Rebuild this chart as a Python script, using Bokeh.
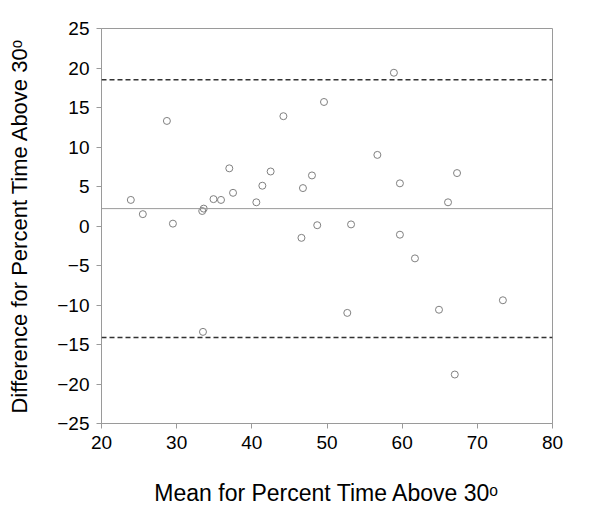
from bokeh.plotting import figure
from bokeh.models import Span, Range1d, FixedTicker
from bokeh.embed import file_html
from bokeh.resources import INLINE

# Bland-Altman data
mean_pct = [23.9, 25.5, 28.7, 29.5, 33.4, 33.6, 33.5, 34.9, 35.9, 37.0,
            37.5, 40.6, 41.4, 42.5, 44.2, 46.6, 46.8, 48.0, 48.7, 49.6,
            52.7, 53.2, 56.7, 58.9, 59.7, 59.7, 61.7, 64.9, 66.1, 67.0,
            67.3, 73.4]
diff_pct = [3.3, 1.5, 13.3, 0.3, 1.9, 2.2, -13.4, 3.4, 3.3, 7.3,
            4.2, 3.0, 5.1, 6.9, 13.9, -1.5, 4.8, 6.4, 0.1, 15.7,
            -11.0, 0.2, 9.0, 19.4, 5.4, -1.1, -4.1, -10.6, 3.0, -18.8,
            6.7, -9.4]
bias = 2.2
upper_loa = 18.5
lower_loa = -14.1
x_ticks = [20, 30, 40, 50, 60, 70, 80]
y_ticks = [-25, -20, -15, -10, -5, 0, 5, 10, 15, 20, 25]

FONT = "Liberation Sans"
GRAY = "#9a9a9a"

p = figure(width=592, height=508, output_backend="svg", toolbar_location=None,
           x_range=Range1d(20, 80), y_range=Range1d(-25, 25),
           min_border_left=101, min_border_right=40, min_border_top=28,
           min_border_bottom=85)

p.xgrid.visible = False
p.ygrid.visible = False
p.outline_line_color = GRAY
p.outline_line_width = 1

for ax in (p.xaxis[0], p.yaxis[0]):
    ax.axis_line_color = GRAY
    ax.major_tick_line_color = GRAY
    ax.minor_tick_line_color = None
    ax.major_tick_in = 0
    ax.major_tick_out = 5
    ax.major_label_text_font = FONT
    ax.major_label_text_font_size = "19px"
    ax.major_label_text_color = "black"
    ax.major_label_standoff = 7
    ax.axis_label_text_font = FONT
    ax.axis_label_text_font_style = "normal"
    ax.axis_label_text_color = "black"

p.xaxis.axis_label_text_font_size = "23px"
p.yaxis.axis_label_text_font_size = "22px"
p.xaxis.ticker = FixedTicker(ticks=x_ticks)
p.yaxis.ticker = FixedTicker(ticks=y_ticks)
p.xaxis.axis_label = "Mean for Percent Time Above 30\u1d52"
p.yaxis.axis_label = "Difference for Percent Time Above 30\u1d52"
p.xaxis.axis_label_standoff = 28
p.yaxis.axis_label_standoff = 22

p.add_layout(Span(location=bias, dimension="width", line_color=GRAY, line_width=1))
p.add_layout(Span(location=upper_loa, dimension="width", line_color="#333333",
                  line_width=1.5, line_dash="5 3"))
p.add_layout(Span(location=lower_loa, dimension="width", line_color="#333333",
                  line_width=1.5, line_dash="5 3"))

p.scatter(mean_pct, diff_pct, marker="circle", size=7, fill_color=None,
          line_color="#808080", line_width=1)

open("out.html", "w").write(file_html(p, INLINE))
